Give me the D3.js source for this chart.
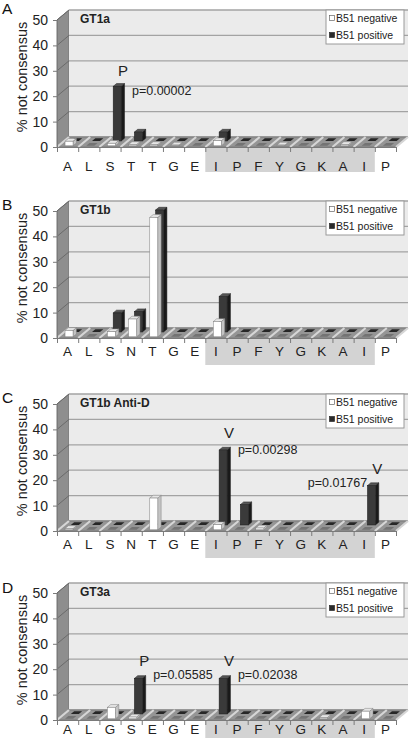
<!DOCTYPE html>
<html>
<head>
<meta charset="utf-8">
<script src="https://cdn.jsdelivr.net/npm/d3@7"></script>
<style>
  body { margin: 0; background: #fff; }
  svg { display: block; font-family: "Liberation Sans", Arial, sans-serif; }
</style>
</head>
<body>
<svg width="414" height="738"></svg>
<script>
// categories (amino acid positions) per panel
const catsA = ["A", "L", "S", "T", "T", "G", "E", "I", "P", "F", "Y", "G", "K", "A", "I", "P"];
const catsB = ["A", "L", "S", "N", "T", "G", "E", "I", "P", "F", "Y", "G", "K", "A", "I", "P"];
const catsC = ["A", "L", "S", "N", "T", "G", "E", "I", "P", "F", "Y", "G", "K", "A", "I", "P"];
const catsD = ["A", "L", "G", "S", "E", "G", "E", "I", "P", "F", "Y", "G", "K", "A", "I", "P"];

// % not consensus, B51 negative / B51 positive
const negA = [1.8, 0, 1, 0.5, 0.5, 0.3, 0, 2, 0, 0, 0.3, 0, 0, 0.5, 0, 0];
const posA = [0, 0, 21.5, 3.5, 0, 0, 0, 3.5, 0, 0, 0, 0, 0, 0, 0, 0];
const negB = [2.5, 0, 2, 7, 47, 0, 0, 6, 0, 0, 0, 0, 0, 0, 0, 0];
const posB = [0, 0, 7.5, 8, 48, 0, 0, 14, 0, 0, 0, 0, 0, 0, 0, 0];
const negC = [0.5, 0, 0, 0, 12.5, 0, 0, 2, 0, 0.7, 0, 0, 0, 0, 0, 0];
const posC = [0, 0, 0, 0, 0, 0, 0, 29.5, 8, 0, 0, 0, 0, 0, 15.5, 0];
const negD = [0, 0, 4.5, 0.7, 0, 0, 0, 0, 0, 0, 0, 0, 0.5, 0, 3, 0];
const posD = [0, 0, 0, 14, 0, 0, 0, 14, 0, 0, 0, 0, 0, 0, 0, 0];

// annotations: category index, value level, text
const annotA = [
  { i: 2, v: 30, t: "P", kind: "mark" },
  { i: 2, v: 22, t: "p=0.00002", kind: "p" },
];
const annotB = [];
const annotC = [
  { i: 7, v: 38.6, t: "V", kind: "mark" },
  { i: 7, v: 32, t: "p=0.00298", kind: "p" },
  { i: 14, v: 24.4, t: "V", kind: "mark" },
  { i: 14, v: 19, t: "p=0.01767", kind: "pEnd" },
];
const annotD = [
  { i: 3, v: 23.2, t: "P", kind: "mark" },
  { i: 3, v: 17.7, t: "p=0.05585", kind: "p" },
  { i: 7, v: 23.2, t: "V", kind: "mark" },
  { i: 7, v: 17.7, t: "p=0.02038", kind: "p" },
];

const panelLetters = ["A", "B", "C", "D"];
const panelTitles = ["GT1a", "GT1b", "GT1b Anti-D", "GT3a"];
const yTicks = [0, 10, 20, 30, 40, 50];
const legendLabels = ["B51 negative", "B51 positive"];
const shadedFrom = 7, shadedTo = 14;

const panels = [
  { cats: catsA, neg: negA, pos: posA, annot: annotA },
  { cats: catsB, neg: negB, pos: posB, annot: annotB },
  { cats: catsC, neg: negC, pos: posC, annot: annotC },
  { cats: catsD, neg: negD, pos: posD, annot: annotD },
];

// layout
const svg = d3.select("svg");
const zeroY = [147, 338, 531, 720];
const letterY = [14, 210, 403, 593];
const labelDy = [24, 18, 18, 14];
const boxDy = [25, 27, 27, 27];
const left = 57, right = 396;
const DX = 12, DY = 10; // depth of the 3d box
const barW = 8, barDepth = 0.28;
const rowDepth = [0.12, 0.6];

const xBand = d3.scaleBand().domain(d3.range(16)).range([left, right]);
const xEdge = d3.scaleLinear().domain([0, 16]).range([left, right]);

const pts = (arr) => arr.map((p) => p.join(",")).join(" ");

panels.forEach((p, k) => {
  const zero = zeroY[k];
  const y = d3.scaleLinear().domain([0, 50]).range([zero, zero - 127]);
  const g = svg.append("g");

  // side wall
  g.append("polygon")
    .attr("points", pts([[left, y(50)], [left + DX, y(50) - DY], [left + DX, zero - DY], [left, zero]]))
    .attr("fill", "#8e8e8e")
    .attr("stroke", "#777");
  yTicks.forEach((t) => {
    g.append("line")
      .attr("x1", left).attr("y1", y(t))
      .attr("x2", left + DX).attr("y2", y(t) - DY)
      .attr("stroke", "#6a6a6a");
  });

  // back wall
  g.append("rect")
    .attr("x", left + DX).attr("y", y(50) - DY)
    .attr("width", right - left).attr("height", y(0) - y(50))
    .attr("fill", "#ebebeb");
  yTicks.forEach((t) => {
    g.append("line")
      .attr("x1", left + DX).attr("x2", right + DX)
      .attr("y1", y(t) - DY).attr("y2", y(t) - DY)
      .attr("stroke", "#a3a3a3").attr("stroke-width", 1.3);
  });

  // floor
  g.append("polygon")
    .attr("points", pts([[left, zero], [right, zero], [right + DX, zero - DY], [left + DX, zero - DY]]))
    .attr("fill", "#959595")
    .attr("stroke", "#7a7a7a");
  d3.range(17).forEach((b) => {
    g.append("line")
      .attr("x1", xEdge(b)).attr("y1", zero)
      .attr("x2", xEdge(b) + DX).attr("y2", zero - DY)
      .attr("stroke", "#d6d6d6").attr("stroke-width", 2.2);
  });

  // bars: back row (positive) first, then front row (negative)
  const series = [
    { vals: p.pos, row: 1, front: "#3a3a3a", side: "#1a1a1a", top: "#565656", zero: "#262626", stroke: "#1e1e1e" },
    { vals: p.neg, row: 0, front: "#ffffff", side: "#c4c4c4", top: "#e6e6e6", zero: "#737373", stroke: "#808080" },
  ];
  series.forEach((s) => {
    const f0 = rowDepth[s.row];
    const dx = DX * barDepth, dy = DY * barDepth;
    s.vals.forEach((v, i) => {
      const cx = xBand(i) + xBand.bandwidth() / 2;
      const x0 = cx - barW / 2 + DX * f0, x1 = x0 + barW;
      const yb = zero - DY * f0;
      const yt = yb - (zero - y(v));
      if (v === 0) {
        g.append("polygon")
          .attr("points", pts([[x0, yb], [x1, yb], [x1 + dx, yb - dy], [x0 + dx, yb - dy]]))
          .attr("fill", s.zero);
        return;
      }
      g.append("polygon")
        .attr("points", pts([[x1, yb], [x1 + dx, yb - dy], [x1 + dx, yt - dy], [x1, yt]]))
        .attr("fill", s.side).attr("stroke", s.stroke).attr("stroke-width", 0.5);
      g.append("polygon")
        .attr("points", pts([[x0, yt], [x1, yt], [x1 + dx, yt - dy], [x0 + dx, yt - dy]]))
        .attr("fill", s.top).attr("stroke", s.stroke).attr("stroke-width", 0.5);
      g.append("rect")
        .attr("x", x0).attr("y", yt)
        .attr("width", barW).attr("height", yb - yt)
        .attr("fill", s.front).attr("stroke", s.stroke).attr("stroke-width", 0.5);
    });
  });

  // shaded box behind I..I labels
  g.append("rect")
    .attr("x", xEdge(shadedFrom)).attr("y", zero + 1)
    .attr("width", xEdge(shadedTo + 1) - xEdge(shadedFrom))
    .attr("height", boxDy[k] - 1)
    .attr("fill", "#d3d3d3");

  // y axis
  const yAxis = g.append("g")
    .attr("transform", `translate(${left},0)`)
    .call(d3.axisLeft(y).tickValues(yTicks).tickSize(4).tickPadding(5));
  yAxis.select(".domain").attr("stroke", "#7a7a7a");
  yAxis.selectAll(".tick line").attr("stroke", "#7a7a7a");
  yAxis.selectAll(".tick text")
    .attr("font-size", 14).attr("fill", "#222")
    .attr("font-family", "Liberation Sans, Arial, sans-serif");

  // x axis with ticks at category boundaries
  const xAxis = g.append("g")
    .attr("transform", `translate(0,${zero})`)
    .call(d3.axisBottom(xEdge).tickValues(d3.range(17)).tickSize(5).tickFormat(""));
  xAxis.select(".domain").attr("stroke", "#7a7a7a");
  xAxis.selectAll(".tick line").attr("stroke", "#7a7a7a");

  g.selectAll(".cat")
    .data(p.cats)
    .enter()
    .append("text")
    .attr("x", (d, i) => xBand(i) + xBand.bandwidth() / 2)
    .attr("y", zero + labelDy[k])
    .attr("text-anchor", "middle")
    .attr("font-size", 13.5)
    .attr("fill", "#222")
    .text((d) => d);

  // y title
  g.append("text")
    .attr("transform", `translate(27,${zero - 70}) rotate(-90)`)
    .attr("text-anchor", "middle")
    .attr("font-size", 14.5)
    .attr("fill", "#222")
    .text("% not consensus");

  // panel letter + title
  g.append("text")
    .attr("x", 2).attr("y", letterY[k])
    .attr("font-size", 15.5)
    .attr("fill", "#111")
    .text(panelLetters[k]);
  g.append("text")
    .attr("x", 80).attr("y", zero - 124)
    .attr("font-size", 12)
    .attr("font-weight", "bold")
    .attr("fill", "#222")
    .text(panelTitles[k]);

  // legend
  const lg = g.append("g").attr("transform", `translate(326,${zero - 137})`);
  lg.append("rect")
    .attr("width", 78).attr("height", 34)
    .attr("fill", "#fff").attr("stroke", "#9a9a9a");
  legendLabels.forEach((lab, j) => {
    const cy = 8 + j * 17;
    lg.append("rect")
      .attr("x", 3.5).attr("y", cy - 2.5)
      .attr("width", 5).attr("height", 5)
      .attr("fill", j === 0 ? "#fff" : "#2a2a2a")
      .attr("stroke", j === 0 ? "#666" : "#2a2a2a")
      .attr("stroke-width", 0.7);
    lg.append("text")
      .attr("x", 10).attr("y", cy)
      .attr("dy", "0.35em")
      .attr("font-size", 10.5)
      .attr("fill", "#222")
      .text(lab);
  });

  // annotations
  p.annot.forEach((a) => {
    const cx = xBand(a.i) + xBand.bandwidth() / 2;
    const t = g.append("text")
      .attr("y", y(a.v))
      .attr("dy", "0.35em")
      .attr("fill", "#222")
      .text(a.t);
    if (a.kind === "mark") {
      t.attr("x", cx + 13).attr("text-anchor", "middle").attr("font-size", 15);
    } else if (a.kind === "p") {
      t.attr("x", cx + 22).attr("font-size", 12.5);
    } else {
      t.attr("x", cx + 3).attr("text-anchor", "end").attr("font-size", 12.5);
    }
  });
});
</script>
</body>
</html>
